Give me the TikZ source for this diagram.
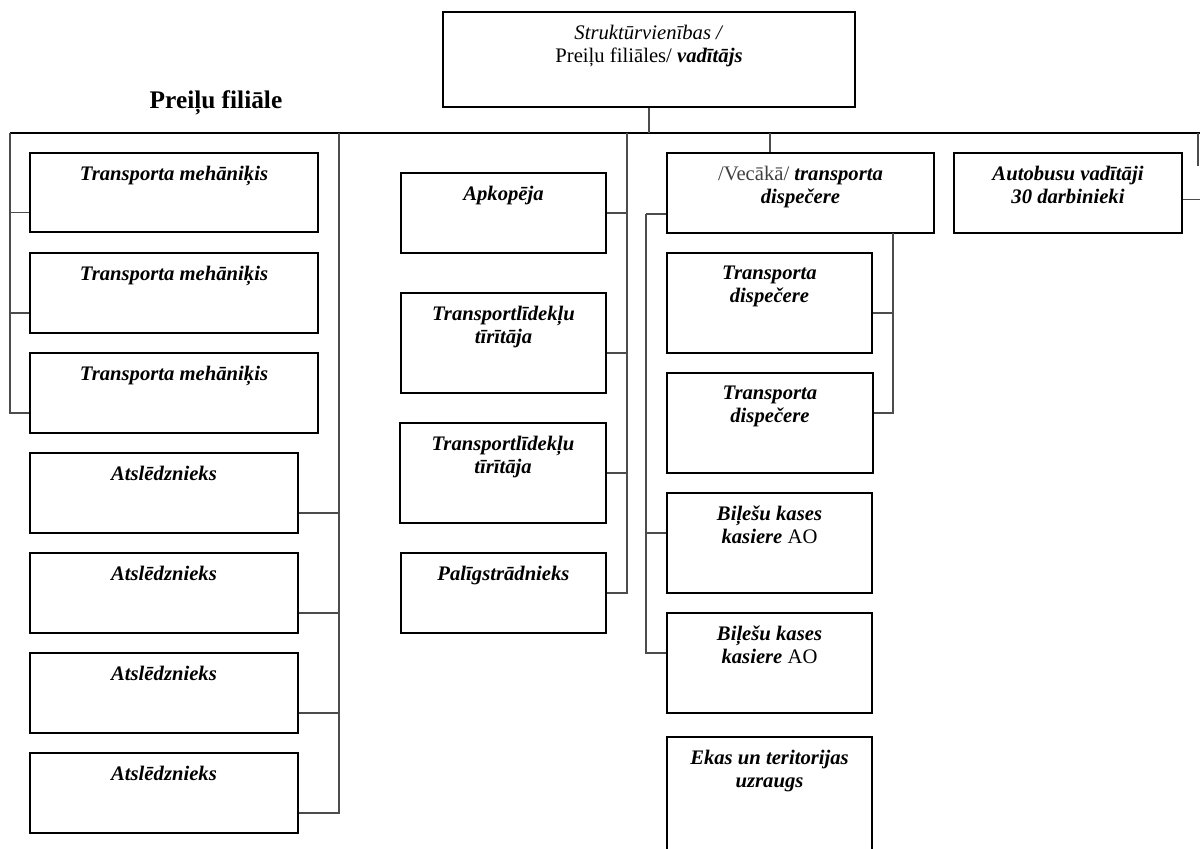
\documentclass[tikz,border=0pt]{standalone}
\usepackage{fontspec}
\setmainfont{Liberation Serif}
\usetikzlibrary{fit}
\tikzset{post/.style={
    draw, line width=0.9pt, inner sep=0pt, fit={#1}
  },
  title/.style={
    anchor=north, yshift=-10pt, align=center, inner sep=0pt,
    font=\fontsize{15.5}{17.5}\selectfont\bfseries\itshape
  },
  link/.style={draw=black!70, line width=1.2pt}
}

\begin{document}
\begin{tikzpicture}[x=0.75pt,y=-0.75pt]
      \useasboundingbox (0,0) rectangle (1200,849);
      \clip (0,0) rectangle (1200,849);
      % head
      \node[post={(443,12) (855,107)},
        label={[title,font=\fontsize{15.5}{17.5}\selectfont]north:{\textit{Struktūrvienības /}\\Preiļu filiāles/ \textbf{\textit{vadītājs}}}}] (head) {};
      \node[font=\fontsize{19}{21}\selectfont\bfseries] (branch) at (216,103) {Preiļu filiāle};
      \coordinate (busL) at (10,133);
      \coordinate (busR) at (1200,133);
      \draw[line width=1pt] (busL) -- (busR);
      \draw[link] (head.south) -- (head.south |- busL);
      % mechanics
      \node[post={(30,153) (318,232)}, label={[title]north:Transporta mehāniķis}] (meh1) {};
      \node[post={(30,253) (318,333)}, label={[title]north:Transporta mehāniķis}] (meh2) {};
      \node[post={(30,353) (318,433)}, label={[title]north:Transporta mehāniķis}] (meh3) {};
      \foreach \n in {meh1,meh2,meh3}
        \draw[link] (busL) |- ([yshift=-15pt]\n.west);
      % locksmiths
      \node[post={(30,453) (298,533)}, label={[title]north:Atslēdznieks}] (atsl1) {};
      \node[post={(30,553) (298,633)}, label={[title]north:Atslēdznieks}] (atsl2) {};
      \node[post={(30,653) (298,733)}, label={[title]north:Atslēdznieks}] (atsl3) {};
      \node[post={(30,753) (298,833)}, label={[title]north:Atslēdznieks}] (atsl4) {};
      \coordinate (atsl) at (339,133);
      \foreach \n in {atsl1,atsl2,atsl3,atsl4}
        \draw[link] (atsl) |- ([yshift=-15pt]\n.east);
      % service staff
      \node[post={(401,173) (606,253)}, label={[title]north:Apkopēja}] (apk) {};
      \node[post={(401,293) (606,393)}, label={[title]north:{Transportlīdekļu\\tīrītāja}}] (tir1) {};
      \node[post={(400,423) (606,523)}, label={[title]north:{Transportlīdekļu\\tīrītāja}}] (tir2) {};
      \node[post={(401,553) (606,633)}, label={[title]north:Palīgstrādnieks}] (pal) {};
      \coordinate (serv) at (627,133);
      \draw[link] (serv) |- (apk.east);
      \draw[link] (serv) |- ([yshift=-7.5pt]tir1.east);
      \draw[link] (serv) |- (tir2.east);
      \draw[link] (serv) |- (pal.east);
      % dispatchers
      \node[post={(667,153) (934,233)},
        label={[title]north:{\textmd{\upshape\color{black!75}/Vecākā/} transporta\\dispečere}}] (vdisp) {};
      \coordinate (disp) at (770,133);
      \draw[link] (disp) -- (disp |- vdisp.north);
      \node[post={(667,253) (872,353)}, label={[title]north:{Transporta\\dispečere}}] (tdisp1) {};
      \node[post={(667,373) (873,473)}, label={[title]north:{Transporta\\dispečere}}] (tdisp2) {};
      \coordinate (dispR) at (893,233);
      \draw[link] (dispR) |- ([yshift=-7.5pt]tdisp1.east);
      \draw[link] (dispR) |- ([yshift=7.5pt]tdisp2.east);
      \node[post={(667,493) (872,593)}, label={[title]north:{Biļešu kases\\kasiere \textmd{\upshape AO}}}] (kase1) {};
      \node[post={(667,613) (872,713)}, label={[title]north:{Biļešu kases\\kasiere \textmd{\upshape AO}}}] (kase2) {};
      \coordinate (dispL) at (646,214);
      \draw[link] (vdisp.west |- dispL) -- (dispL);
      \draw[link] (dispL) |- ([yshift=7.5pt]kase1.west);
      \draw[link] (dispL) |- ([yshift=7.5pt]kase2.west);
      \node[post={(667,737) (872,880)}, label={[title]north:{Ekas un teritorijas\\uzraugs}}] (ekas) {};
      % drivers
      \node[post={(954,153) (1182,233)}, label={[title]north:{Autobusu vadītāji\\30 darbinieki}}] (drv) {};
      \coordinate (edge) at (1198,133);
      \draw[link] (edge) -- ++(0,33);
      \draw[link] ([yshift=-5pt]drv.east) -- ++(20,0);
    \end{tikzpicture}
\end{document}
